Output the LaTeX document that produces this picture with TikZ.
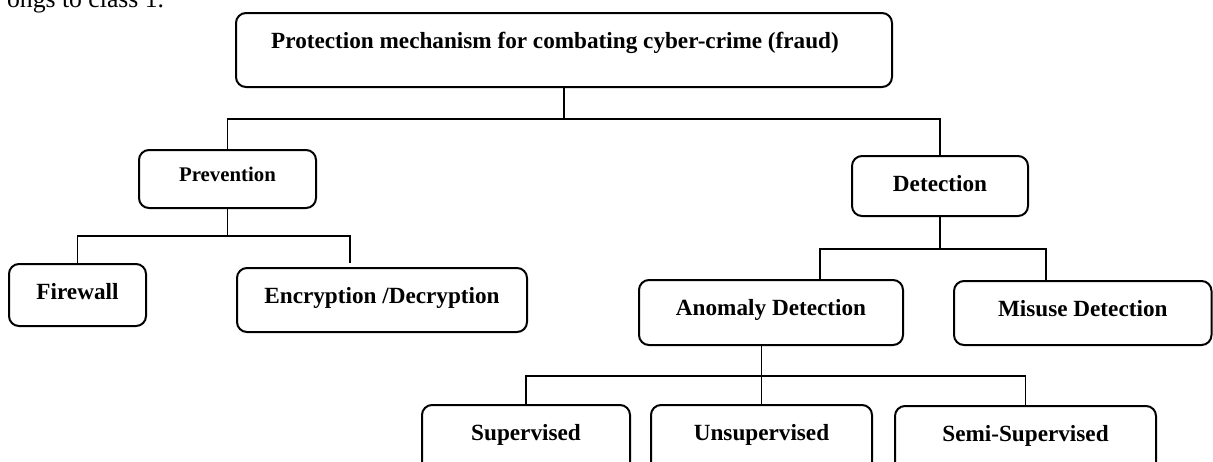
\documentclass[tikz,border=0pt]{standalone}
\usepackage{fontspec}
\setmainfont{Liberation Serif}
\begin{document}
\begin{tikzpicture}[x=0.5pt,y=-0.5pt]
\tikzstyle{box} = [draw,line width=1pt,rounded corners=5pt,anchor=north,inner xsep=0,inner ysep=0,text height=17.5pt,font=\fontsize{11.6}{13}\selectfont\bfseries];
\tikzstyle{smallbox} = [box,text height=15.5pt,font=\fontsize{10.4}{12}\selectfont\bfseries];
\tikzstyle{link} = [line width=0.9pt];
\useasboundingbox (0,0) rectangle (1213,461);
\node [anchor=base west,font=\fontsize{12.85}{14}\selectfont] (cut) at (0,7) {ongs to class 1.};
\node [box,minimum width=328pt,text depth=19.5pt] (top) at (564,12) {Protection mechanism for combating cyber-crime (fraud)\hspace*{9pt}};
\node [smallbox,minimum width=88.5pt,text depth=13.5pt] (prev) at (227.5,149) {Prevention};
\node [box,minimum width=88pt,text depth=12.5pt] (det) at (940,155) {Detection};
\node [box,minimum width=68.5pt,text depth=13.5pt] (fire) at (77.5,263) {Firewall};
\node [box,minimum width=145pt,text depth=14.5pt] (enc) at (382,267) {Encryption /Decryption};
\node [box,minimum width=132pt,text depth=15pt] (anom) at (771,279) {Anomaly Detection};
\node [box,minimum width=128.75pt,text depth=14.5pt] (misu) at (1082.75,280) {Misuse Detection};
\node [box,minimum width=104pt,text depth=17.5pt] (sup) at (526,404) {Supervised};
\node [box,minimum width=110.5pt,text depth=17.5pt] (unsup) at (761.5,404) {Unsupervised};
\node [box,minimum width=130.5pt,text depth=17.5pt] (semi) at (1025.5,405) {Semi-Supervised};

\draw [link] (top.south) -- ++(0,31) coordinate (j1);
\draw [link] (prev.north) |- (j1) -| (det.north);
\draw [link] (prev.south) -- ++(0,27) coordinate (j2);
\draw [link] (fire.north) |- (j2) -| ([xshift=-16pt,yshift=2pt]enc.north);
\draw [link] (det.south) -- ++(0,32) coordinate (j3);
\draw [link] ([xshift=24.5pt]anom.north) |- (j3) -| ([xshift=-18.25pt]misu.north);
\draw [link] (anom.south -| unsup.north) -- (unsup.north);
\draw [link] (sup.north) |- ([yshift=14pt]unsup.north) -| (semi.north);
\end{tikzpicture}
\end{document}
